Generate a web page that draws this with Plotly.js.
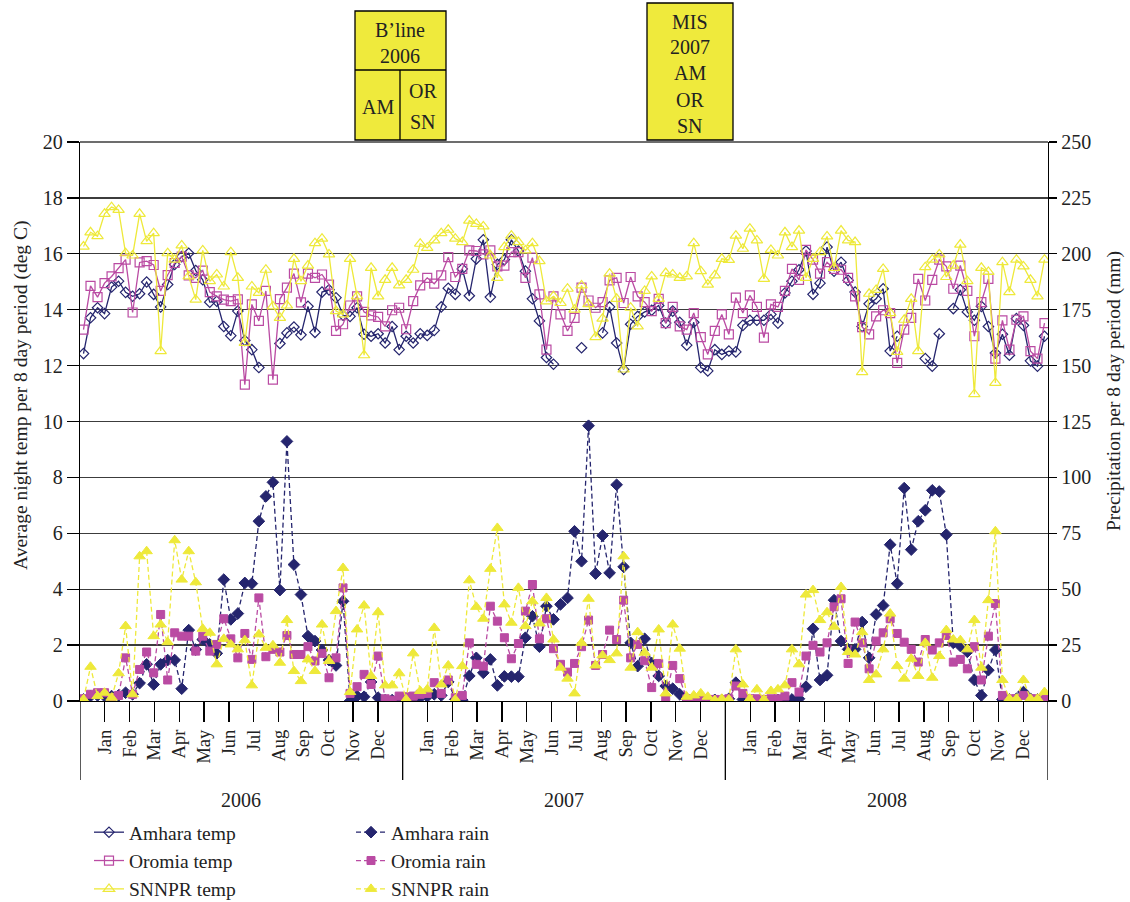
<!DOCTYPE html>
<html>
<head>
<meta charset="utf-8">
<script src="https://cdn.plot.ly/plotly-3.0.1.min.js"></script>
<style>html,body{margin:0;padding:0;background:#fff;}#chart{width:1130px;height:902px;}</style>
</head>
<body>
<div id="chart"></div>
<script>
// ---- data: 46 eight-day periods per year, 2006-2008 ----
const years = ["2006", "2007", "2008"];
const periodsPerYear = 46;
const monthNames = ["Jan","Feb","Mar","Apr","May","Jun","Jul","Aug","Sep","Oct","Nov","Dec"];

// Average night temperature (deg C)
const amharaTemp = [
 12.43,13.71,14.07,13.86,14.81,15.02,14.62,14.48,14.57,14.99,14.55,14.10,14.90,15.62,15.90,16.02,15.40,15.07,14.27,14.30,13.40,13.07,13.95,12.90,12.57,11.93,null,null,12.79,13.17,13.38,13.10,14.12,13.19,14.63,14.71,14.43,13.80,13.76,14.07,13.12,13.05,13.14,12.81,13.40,12.57,
 13.05,12.81,13.14,13.08,13.26,14.10,14.77,14.55,15.46,14.50,15.82,16.50,14.45,15.62,15.79,16.50,16.10,15.38,14.39,13.60,12.29,12.05,null,null,null,12.64,null,null,13.17,14.10,12.81,11.86,13.48,13.76,13.92,13.98,14.15,13.52,13.95,13.55,12.73,13.55,11.93,11.81,12.57,12.40,
 12.52,12.49,13.44,13.62,13.62,13.62,13.83,13.52,14.60,15.02,15.43,16.10,14.55,14.95,16.24,15.38,15.70,15.05,14.63,13.40,14.21,14.39,14.75,12.52,13.05,null,null,null,12.25,11.98,13.14,null,14.04,14.71,13.92,13.62,14.12,13.40,12.45,13.12,12.37,13.68,13.44,12.17,11.98,13.05
];
const oromiaTemp = [
 13.29,14.85,14.45,14.95,15.19,15.49,15.79,13.90,15.69,15.74,15.60,14.67,15.24,15.67,15.90,15.23,15.14,15.40,14.63,14.48,14.36,14.31,14.37,11.32,14.19,13.60,14.67,11.50,14.38,14.79,15.29,14.26,15.29,15.14,15.26,14.90,13.24,13.48,14.15,14.48,13.92,13.80,13.74,13.40,13.98,14.07,
 13.30,14.31,14.87,15.14,14.93,15.23,15.88,15.17,15.46,16.12,16.10,15.98,16.12,15.55,15.58,16.06,16.06,15.14,15.86,14.55,12.57,14.48,13.83,13.24,13.71,14.79,14.33,14.07,14.27,15.05,15.14,14.24,15.17,14.48,14.27,13.95,14.39,13.52,14.10,13.40,13.29,13.88,13.02,12.40,13.24,13.83,
 13.12,14.43,13.88,14.51,14.10,13.00,14.19,14.10,14.67,15.46,15.07,16.14,15.79,15.29,15.70,15.46,15.43,15.14,14.48,13.38,13.12,13.76,13.98,13.88,12.10,13.29,13.71,15.10,14.33,15.07,15.79,15.55,14.75,15.58,14.67,13.05,14.27,15.10,12.25,13.62,12.57,13.64,13.76,12.52,12.25,13.52
];
const snnprTemp = [
 16.26,16.77,16.63,17.43,17.67,17.57,16.02,15.94,17.43,16.45,16.74,12.52,16.02,15.79,16.30,15.19,14.36,16.12,15.02,15.26,14.83,16.06,15.14,12.81,14.83,14.60,15.43,14.12,13.71,14.15,15.82,15.02,15.58,16.38,16.54,15.98,13.95,13.83,15.82,14.48,12.37,15.50,14.48,15.07,15.50,14.87,
 15.07,15.43,16.36,16.21,16.48,16.74,16.86,16.54,16.42,17.19,17.07,16.98,15.94,15.14,16.24,16.65,16.42,16.12,16.38,15.74,14.30,14.48,14.24,14.75,14.00,14.87,14.20,13.02,13.68,15.29,14.39,11.86,14.07,13.40,14.67,15.19,14.39,15.31,15.26,15.14,15.19,16.38,15.38,14.90,15.23,15.82,
 15.78,16.65,16.18,16.90,16.48,15.10,16.14,15.94,16.77,16.24,16.83,15.14,15.82,16.06,16.62,15.50,16.83,16.48,16.42,11.77,14.57,14.71,15.46,13.88,12.49,13.64,14.39,12.52,15.52,15.79,15.98,15.17,15.58,16.33,15.02,10.98,15.50,15.35,11.38,15.70,14.63,15.79,15.55,15.07,14.48,15.79
];

// Precipitation per 8-day period (mm)
const amharaRain = [
 0.7,2.2,2.5,2.2,2.2,2.5,3.7,3.0,8.0,16.4,7.4,16.4,18.3,18.3,5.5,31.7,23.0,27.5,25.3,21.3,54.3,36.5,39.1,52.8,52.5,80.4,91.5,97.8,49.6,116.1,61.0,47.6,29.0,26.8,22.8,18.3,15.9,44.6,0.0,2.2,1.9,8.5,1.5,0.4,0.4,0.4,
 1.0,1.0,1.5,2.0,3.0,2.5,8.5,0.7,0.4,11.2,19.3,12.6,18.6,7.0,11.0,10.9,10.9,28.3,37.9,24.3,42.4,36.5,43.2,46.1,75.9,62.5,123.1,57.0,74.0,57.3,96.7,60.0,26.0,15.6,27.8,17.0,11.2,6.7,5.5,3.0,1.0,0.5,0.5,0.5,0.5,0.5,
 1.0,8.2,0.7,0.0,0.0,0.0,0.0,0.5,0.4,0.7,1.0,6.4,32.3,9.4,11.5,45.1,26.8,23.1,23.1,35.3,19.3,38.7,42.7,69.9,52.5,95.2,67.7,80.4,85.3,94.2,93.7,74.4,26.0,24.6,22.0,9.4,2.5,13.8,22.8,0.7,0.7,1.0,4.0,1.0,0.7,2.2
];
const oromiaRain = [
 1.0,3.0,3.7,3.7,1.5,2.5,19.3,3.0,14.1,21.9,12.6,38.7,9.4,30.5,29.0,29.0,22.3,29.0,22.3,25.3,36.8,27.8,19.3,30.2,18.6,46.1,19.8,23.1,21.9,29.3,20.8,20.8,24.3,17.9,21.3,10.4,19.3,50.6,3.4,6.4,11.9,7.4,20.1,1.0,0.4,2.2,
 1.9,2.2,3.0,3.4,8.2,3.4,9.4,1.5,2.5,26.0,16.4,15.6,42.4,35.7,28.3,18.9,25.7,40.2,52.1,27.8,36.8,23.4,16.4,12.9,16.8,24.3,36.2,15.9,20.8,31.7,27.5,45.1,19.3,25.3,18.0,6.0,16.8,1.0,15.9,10.0,1.0,0.7,0.7,0.5,0.7,0.5,
 1.0,6.7,3.4,1.0,1.0,0.7,1.0,1.0,2.2,8.2,4.0,20.1,24.9,21.9,26.0,42.1,45.7,16.8,35.3,26.0,14.4,26.8,30.5,36.8,30.2,26.3,23.1,17.4,27.5,22.8,26.0,29.3,17.4,18.6,14.4,24.3,9.4,29.0,43.6,2.5,1.0,1.0,2.5,1.0,1.0,1.0
];
const snnprRain = [
 0.7,15.3,2.2,3.7,1.5,12.4,33.5,3.0,64.7,67.0,29.0,34.2,26.3,71.9,54.3,67.0,53.1,32.3,30.5,16.4,27.8,25.3,23.1,27.2,7.0,29.8,23.8,24.9,17.1,36.2,13.4,8.9,18.6,13.4,34.2,17.9,40.2,59.5,4.0,32.0,42.7,11.2,39.7,7.0,7.0,12.4,
 0.7,21.3,4.5,5.2,32.7,7.4,15.9,0.7,15.6,54.0,42.1,36.8,59.1,77.4,43.2,35.0,50.6,33.5,44.6,34.7,46.1,27.5,14.9,10.0,3.4,26.0,45.7,15.9,20.4,18.3,21.3,64.7,14.9,30.8,21.6,14.9,32.0,3.4,34.2,23.4,1.9,2.5,3.4,1.9,0.4,1.0,
 0.7,23.1,7.4,1.0,5.2,0.7,4.5,5.2,7.0,23.1,16.4,47.6,49.6,36.2,39.7,33.2,51.0,21.9,20.8,30.8,9.4,11.9,23.1,39.1,15.6,10.0,18.9,11.2,26.0,10.4,20.1,31.7,27.5,27.2,23.1,36.2,14.9,45.1,75.9,9.4,1.0,1.0,9.4,1.0,1.0,4.0
];

// ---- build ----
const FONT = "Liberation Serif, Times New Roman, serif";
const NAVY = "#25256E", MAG = "#BA4BA3", YEL = "#EEE93A";
const nPeriods = years.length * periodsPerYear;
const period = [];
for (let i = 0; i < nPeriods; i++) period.push(i);

// month ticks: 13 equal steps per year block, month labels at the 12 inner steps
const tickvals = [], ticktext = [];
years.forEach((y, yi) => {
  monthNames.forEach((m, mi) => {
    tickvals.push(yi * periodsPerYear - 0.5 + (mi + 1) * periodsPerYear / 13);
    ticktext.push(m);
  });
});

function tempTrace(name, y, color, symbol, size, legend) {
  return {x: period, y: y, name: name, type: "scatter", mode: "lines+markers",
    line: {color: color, width: 1.3}, connectgaps: false,
    marker: {symbol: symbol, size: size, color: color, line: {color: color, width: 1.2}},
    legend: legend, legendgroup: name, yaxis: "y"};
}
function rainTrace(name, y, color, symbol, size, legend) {
  return {x: period, y: y, name: name, type: "scatter", mode: "lines+markers",
    line: {color: color, width: 1.3, dash: "5px,3px"},
    marker: {symbol: symbol, size: size, color: color, line: {color: color, width: 1}},
    legend: legend, legendgroup: name, yaxis: "y2"};
}

const data = [
  tempTrace("Amhara temp", amharaTemp, NAVY, "diamond-open", 8, "legend"),
  tempTrace("Oromia temp", oromiaTemp, MAG, "square-open", 9, "legend"),
  tempTrace("SNNPR temp", snnprTemp, YEL, "triangle-up-open", 10, "legend"),
  rainTrace("Amhara rain", amharaRain, NAVY, "diamond", 9, "legend2"),
  rainTrace("Oromia rain", oromiaRain, MAG, "square", 8, "legend2"),
  rainTrace("SNNPR rain", snnprRain, YEL, "triangle-up", 10, "legend2")
];

// geometry helpers (paper coords) for plot area l=80..1048, t=142..701
const W = 1130, H = 902;
const PL = 80, PR = 1048, PT = 142, PB = 701;
const px = v => (v - PL) / (PR - PL);
const py = v => (PB - v) / (PB - PT);

const shapes = [];
for (let yi = 0; yi <= years.length; yi++) {
  const xv = yi * periodsPerYear - 0.5;
  shapes.push({type: "line", xref: "x", yref: "paper", x0: xv, x1: xv, y0: 0, y1: py(780),
    line: {color: "#000", width: 1.3}});
}
const BOXFILL = "#EFEA3C";
shapes.push({type: "rect", xref: "paper", yref: "paper", x0: px(355), x1: px(446), y0: py(140), y1: py(11),
  fillcolor: BOXFILL, line: {color: "#000", width: 1.3}});
shapes.push({type: "line", xref: "paper", yref: "paper", x0: px(355), x1: px(446), y0: py(70), y1: py(70),
  line: {color: "#000", width: 1.3}});
shapes.push({type: "line", xref: "paper", yref: "paper", x0: px(400), x1: px(400), y0: py(140), y1: py(70),
  line: {color: "#000", width: 1.3}});
shapes.push({type: "rect", xref: "paper", yref: "paper", x0: px(647), x1: px(733), y0: py(140), y1: py(3),
  fillcolor: BOXFILL, line: {color: "#000", width: 1.3}});
shapes.push({type: "line", xref: "paper", yref: "paper", x0: 0, x1: 1, y0: 1, y1: 1,
  line: {color: "#3c3c3c", width: 1.3}, layer: "below"});

const annotations = [];
function txt(text, x, y, size, extra) {
  annotations.push(Object.assign({text: text, xref: "paper", yref: "paper", x: px(x), y: py(y),
    xanchor: "center", yanchor: "middle", showarrow: false,
    font: {family: FONT, size: size || 20, color: "#222"}}, extra || {}));
}
txt("B\u2019line", 400, 30);
txt("2006", 400, 56);
txt("AM", 378, 107);
txt("OR", 423, 91);
txt("SN", 423, 122);
txt("MIS", 690, 22);
txt("2007", 690, 47);
txt("AM", 690, 73);
txt("OR", 690, 100);
txt("SN", 690, 126);
years.forEach((y, yi) => {
  annotations.push({text: y, xref: "x", yref: "paper", x: yi * periodsPerYear + (periodsPerYear - 1) / 2,
    y: py(800), xanchor: "center", yanchor: "middle", showarrow: false,
    font: {family: FONT, size: 20, color: "#222"}});
});
txt("Average night temp per 8 day period (deg C)", 21, 396, 19.5, {textangle: -90});
txt("Precipitation per 8 day period (mm)", 1114, 391, 19.5, {textangle: -90});

const legendCommon = {orientation: "v", xanchor: "left", yanchor: "top", bgcolor: "rgba(0,0,0,0)",
  xref: "container", yref: "container", y: (H - 813) / H,
  font: {family: FONT, size: 19.5, color: "#222"}, traceorder: "grouped", tracegroupgap: 0};

const layout = {
  width: W, height: H,
  margin: {l: PL, r: W - PR, t: PT, b: H - PB, pad: 0, autoexpand: false},
  paper_bgcolor: "#fff", plot_bgcolor: "#fff",
  font: {family: FONT, size: 20, color: "#222"},
  showlegend: true,
  xaxis: {range: [-0.5, nPeriods - 0.5], tickmode: "array", tickvals: tickvals, ticktext: ticktext,
    tickangle: -90, ticks: "outside", ticklen: 20, tickwidth: 1.3, tickcolor: "#000",
    showline: true, linecolor: "#000", linewidth: 1.3, mirror: false, showgrid: false, zeroline: false,
    tickfont: {family: FONT, size: 18.5, color: "#222"}, fixedrange: true},
  yaxis: {range: [0, 20], dtick: 2, tick0: 0, ticks: "outside", ticklen: 12, tickwidth: 1.3, tickcolor: "#000",
    showline: true, linecolor: "#000", linewidth: 1.3, showgrid: true, gridcolor: "#3c3c3c", gridwidth: 1.3,
    zeroline: false, tickfont: {family: FONT, size: 20, color: "#222"}, fixedrange: true},
  yaxis2: {range: [0, 250], dtick: 25, tick0: 0, overlaying: "y", side: "right", ticks: "outside", ticklen: 8,
    tickwidth: 1.3, tickcolor: "#000", showline: true, linecolor: "#000", linewidth: 1.3, showgrid: false,
    zeroline: false, tickfont: {family: FONT, size: 20, color: "#222"}, fixedrange: true},
  legend: Object.assign({x: 89 / W}, legendCommon),
  legend2: Object.assign({x: 351 / W}, legendCommon),
  shapes: shapes,
  annotations: annotations
};

Plotly.newPlot("chart", data, layout, {staticPlot: true, displayModeBar: false});
</script>
</body>
</html>
